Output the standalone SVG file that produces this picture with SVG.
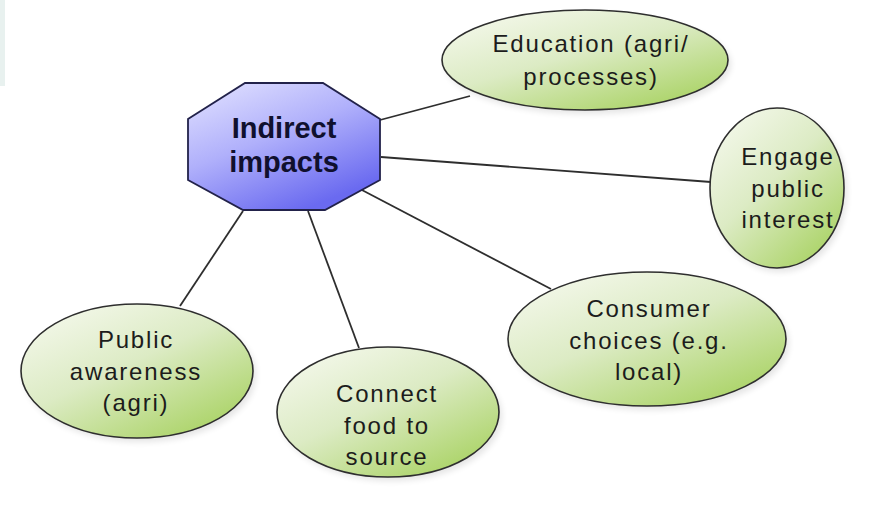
<svg xmlns="http://www.w3.org/2000/svg" width="876" height="506" viewBox="0 0 876 506">
  <defs>
    <linearGradient id="gOct" x1="0" y1="0" x2="0.6" y2="1">
      <stop offset="0" stop-color="#e4e4ff"/>
      <stop offset="0.5" stop-color="#b0b0fb"/>
      <stop offset="1" stop-color="#6a6af0"/>
    </linearGradient>
    <linearGradient id="gEll" x1="0.1" y1="0" x2="0.9" y2="1">
      <stop offset="0" stop-color="#f6f9ee"/>
      <stop offset="0.45" stop-color="#dcebc4"/>
      <stop offset="1" stop-color="#a4d05a"/>
    </linearGradient>
    <filter id="sh" x="-10%" y="-10%" width="130%" height="130%">
      <feGaussianBlur stdDeviation="3"/>
    </filter>
    <style>
      .ell { fill: url(#gEll); stroke: #2e2e2e; stroke-width: 1.6; }
      .shadow { fill: #000; opacity: 0.10; filter: url(#sh); }
      .oct { fill: url(#gOct); stroke: #22224a; stroke-width: 1.8; }
      .lbl { font-family: "Liberation Sans", Arial, sans-serif; font-size: 24px; fill: #1c1c1c; text-anchor: middle; letter-spacing: 1.8px; }
      .main { font-family: "Liberation Sans", Arial, sans-serif; font-size: 29px; font-weight: bold; fill: #10102e; text-anchor: middle; }
      .conn { stroke: #2e2e2e; stroke-width: 1.8; fill: none; }
    </style>
  </defs>
  <rect x="0" y="0" width="876" height="506" fill="#ffffff"/>
  <rect x="0" y="0" width="5" height="86" fill="#e8f1ef"/>

  <g id="connectors">
    <line class="conn" x1="380" y1="120" x2="470" y2="96"/>
    <line class="conn" x1="381" y1="157" x2="711" y2="182"/>
    <line class="conn" x1="360" y1="189" x2="551" y2="289"/>
    <line class="conn" x1="308" y1="211" x2="359" y2="348"/>
    <line class="conn" x1="243" y1="211" x2="180" y2="306"/>
  </g>

  <g id="indirect-impacts">
    <polygon class="oct" points="245,83 323,83 380,119 380,180 325,210 243,210 188,180 188,119"/>
    <text class="main" x="284" y="138">Indirect</text>
    <text class="main" x="284" y="172">impacts</text>
  </g>

  <g id="education">
    <ellipse class="shadow" cx="588" cy="64" rx="143" ry="50"/>
    <ellipse class="ell" cx="585" cy="60" rx="143" ry="50"/>
    <text class="lbl" x="591" y="52">Education (agri/</text>
    <text class="lbl" x="591" y="85">processes)</text>
  </g>

  <g id="engage">
    <ellipse class="shadow" cx="780" cy="192" rx="67" ry="80"/>
    <ellipse class="ell" cx="777" cy="188" rx="67" ry="80"/>
    <text class="lbl" x="788" y="165">Engage</text>
    <text class="lbl" x="788" y="197">public</text>
    <text class="lbl" x="788" y="228">interest</text>
  </g>

  <g id="consumer">
    <ellipse class="shadow" cx="650" cy="343" rx="139" ry="67"/>
    <ellipse class="ell" cx="647" cy="339" rx="139" ry="67"/>
    <text class="lbl" x="649" y="317">Consumer</text>
    <text class="lbl" x="649" y="349">choices (e.g.</text>
    <text class="lbl" x="649" y="380">local)</text>
  </g>

  <g id="connect-food">
    <ellipse class="shadow" cx="391" cy="416" rx="111" ry="65"/>
    <ellipse class="ell" cx="388" cy="412" rx="111" ry="65"/>
    <text class="lbl" x="387" y="402">Connect</text>
    <text class="lbl" x="387" y="434">food to</text>
    <text class="lbl" x="387" y="465">source</text>
  </g>

  <g id="public-awareness">
    <ellipse class="shadow" cx="140" cy="375" rx="116" ry="67"/>
    <ellipse class="ell" cx="137" cy="371" rx="116" ry="67"/>
    <text class="lbl" x="136" y="348">Public</text>
    <text class="lbl" x="136" y="380">awareness</text>
    <text class="lbl" x="136" y="411">(agri)</text>
  </g>
</svg>
